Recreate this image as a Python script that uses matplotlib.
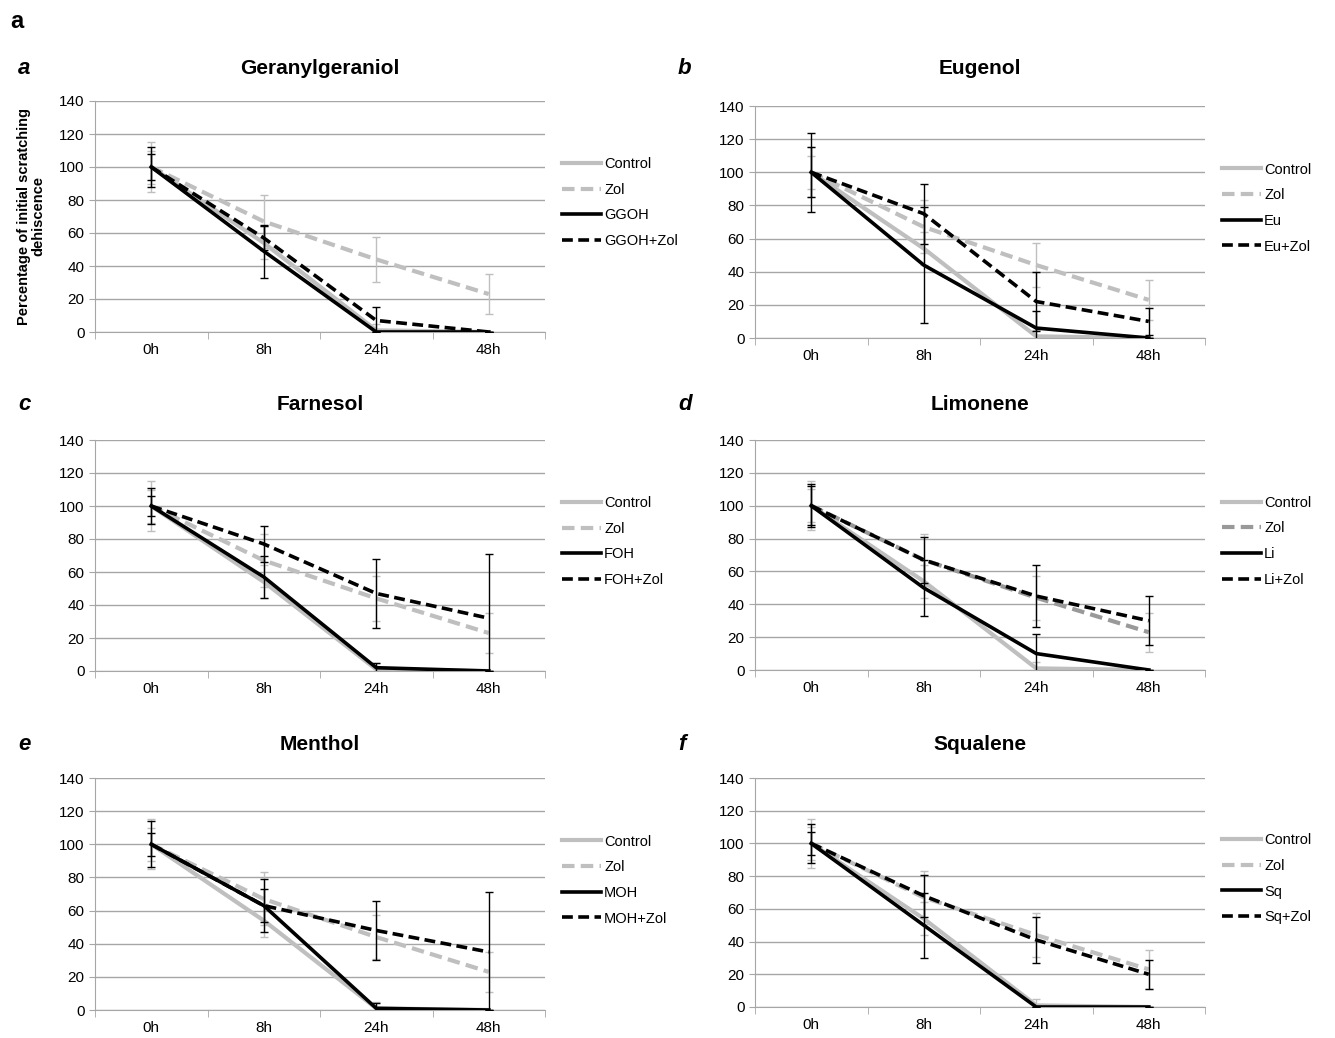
"""
Scratch dehiscence over time, six compounds with and without Zol.
"""

import numpy as np
import matplotlib.pyplot as plt
from matplotlib.lines import Line2D

plt.rcParams['font.family'] = ['Liberation Sans Narrow', 'Liberation Sans', 'DejaVu Sans']

# ---------------------------------------------------------
# Data
# ---------------------------------------------------------
times = ['0h', '8h', '24h', '48h']

control = [100, 54, 1, 0]
control_err = [10, 10, 4, 0]
zol = [100, 67, 44, 23]
zol_err = [15, 16, 13.5, 12]

titles = ['Geranylgeraniol', 'Eugenol', 'Farnesol', 'Limonene', 'Menthol', 'Squalene']
panel_letters = ['a', 'b', 'c', 'd', 'e', 'f']
short_names = ['GGOH', 'Eu', 'FOH', 'Li', 'MOH', 'Sq']

treat = [
    [100, 49, 0, 0],
    [100, 44, 6, 0],
    [100, 57, 2, 0],
    [100, 50, 10, 0],
    [100, 63, 1, 0],
    [100, 50, 0, 0],
]
treat_err = [
    [8, 16, 0, 0],
    [24, 35, 10, 0],
    [6, 13, 3, 0],
    [12, 17, 12, 0],
    [7, 10, 3, 0],
    [7, 20, 0, 0],
]
treat_zol = [
    [100, 57, 7, 0],
    [100, 75, 22, 10],
    [100, 77, 47, 32],
    [100, 67, 45, 30],
    [100, 63, 48, 35],
    [100, 68, 41, 20],
]
treat_zol_err = [
    [12, 7, 8, 0],
    [15, 18, 18, 8],
    [11, 11, 21, 39],
    [13, 14, 19, 15],
    [14, 16, 18, 36],
    [12, 13, 14, 9],
]

# ---------------------------------------------------------
# Layout (pixel boxes of the plot areas)
# ---------------------------------------------------------
W, H = 1335, 1038
boxes = [  # left, right, top, bottom
    (95, 545, 101, 332),
    (755, 1205, 106, 338),
    (95, 545, 440, 671),
    (755, 1205, 440, 670),
    (95, 545, 778, 1010),
    (755, 1205, 778, 1007),
]
title_y = [68, 68, 405, 405, 745, 745]

fig = plt.figure(figsize=(W / 100, H / 100), dpi=100)
fig.text(10 / W, 1 - 22 / H, 'a', fontsize=17, fontweight='bold',
         family=['Liberation Sans', 'DejaVu Sans'], va='center')

light = '#bfbfbf'
dash = (0, (3, 1.5))
x = np.arange(len(times))

for i in range(6):
    l, r, t, b = boxes[i]
    ax = fig.add_axes([l / W, 1 - b / H, (r - l) / W, (b - t) / H])

    zol_color = '#999999' if i == 3 else light
    ax.errorbar(x, control, yerr=control_err, color=light, lw=3,
                ecolor=light, elinewidth=1, capsize=3, zorder=2)
    ax.errorbar(x, zol, yerr=zol_err, color=zol_color, lw=3, ls=dash,
                ecolor=light, elinewidth=1, capsize=3, zorder=2)
    ax.errorbar(x, treat[i], yerr=treat_err[i], color='black', lw=2.6,
                ecolor='black', elinewidth=1, capsize=3, zorder=3)
    ax.errorbar(x, treat_zol[i], yerr=treat_zol_err[i], color='black', lw=2.6,
                ls=dash, ecolor='black', elinewidth=1, capsize=3, zorder=3)

    ax.set_xlim(-0.5, 3.5)
    ax.set_ylim(0, 140)
    ax.set_yticks(range(0, 141, 20))
    ax.set_xticks(x)
    ax.set_xticklabels(times)
    ax.set_xticks(np.arange(-0.5, 4, 1), minor=True)
    ax.tick_params(axis='x', which='major', length=0, labelsize=11, pad=8)
    ax.tick_params(axis='x', which='minor', length=5, color='#a6a6a6')
    ax.tick_params(axis='y', length=4, color='#a6a6a6', labelsize=11)
    ax.grid(axis='y', color='#a6a6a6', lw=1)
    ax.set_axisbelow(True)
    for s in ['top', 'right']:
        ax.spines[s].set_visible(False)
    for s in ['left', 'bottom']:
        ax.spines[s].set_color('#a6a6a6')

    cx = (l + r) / 2 / W
    fig.text(cx, 1 - title_y[i] / H, titles[i], ha='center', va='center',
             fontsize=15, fontweight='bold', family=['Liberation Sans', 'DejaVu Sans'])
    fig.text((l - 77) / W, 1 - title_y[i] / H, panel_letters[i], ha='left', va='center',
             fontsize=16, fontweight='bold', style='italic',
             family=['Liberation Sans', 'DejaVu Sans'])

    handles = [
        Line2D([], [], color=light, lw=3),
        Line2D([], [], color=zol_color, lw=3, ls=dash),
        Line2D([], [], color='black', lw=2.6),
        Line2D([], [], color='black', lw=2.6, ls=dash),
    ]
    labels = ['Control', 'Zol', short_names[i], short_names[i] + '+Zol']
    ax.legend(handles, labels, loc='center left', bbox_to_anchor=(1.008, 0.56),
              frameon=False, fontsize=10.5, handlelength=2.7, handletextpad=0.2,
              labelspacing=0.8)

    if i == 0:
        ax.set_ylabel('Percentage of initial scratching\ndehiscence', fontsize=10.5,
                      fontweight='bold', family=['Liberation Sans', 'DejaVu Sans'],
                      labelpad=10, linespacing=1.0)

fig.savefig('out.png', dpi=100)
